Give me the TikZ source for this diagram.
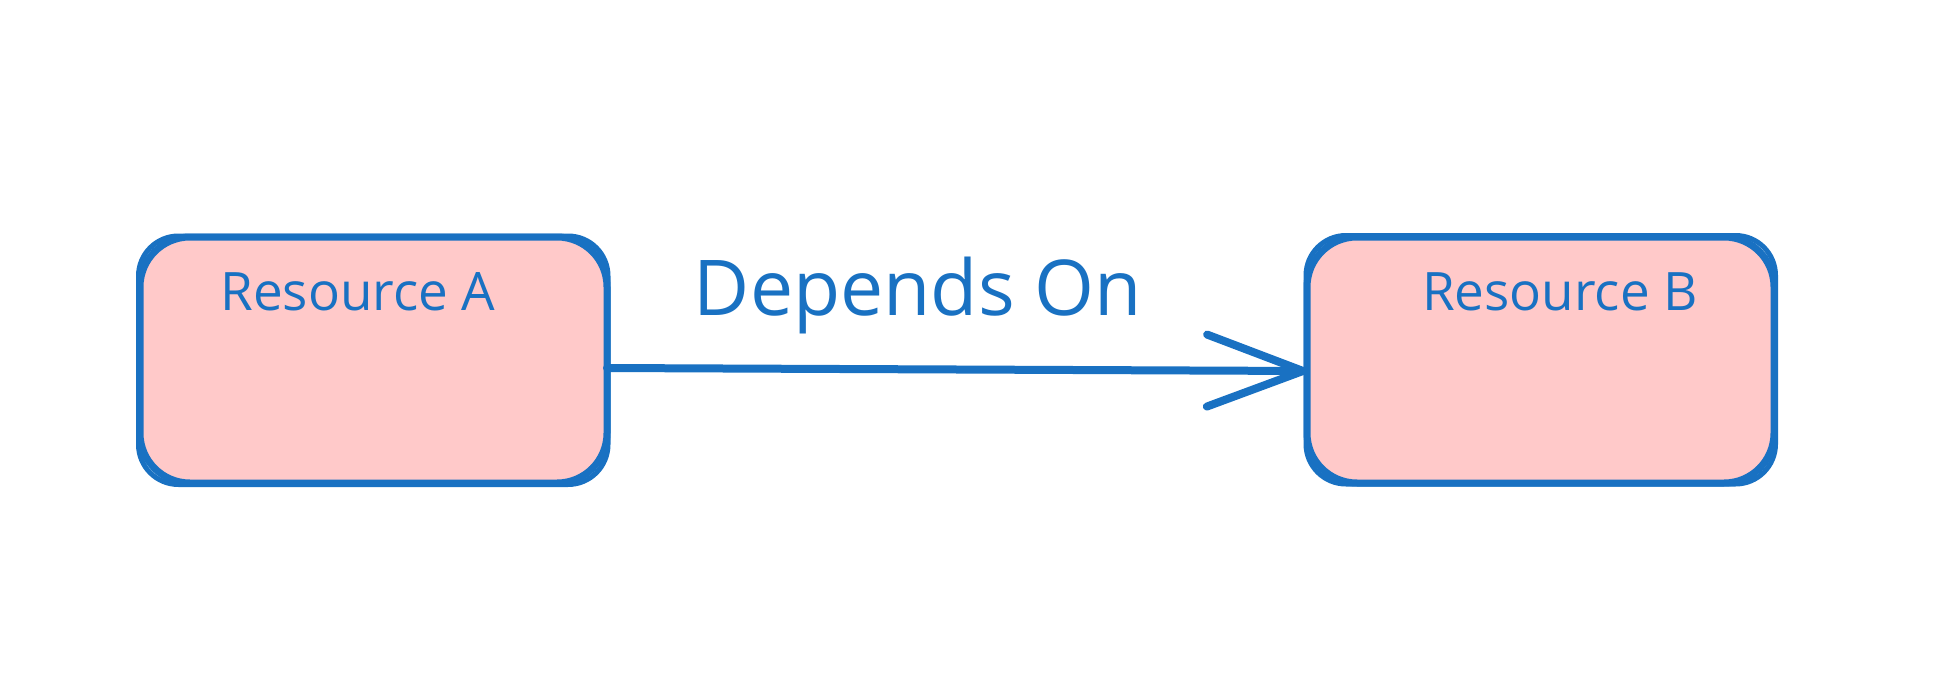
\documentclass[tikz,border=0pt]{standalone}
\usepackage{fontspec}
\setmainfont{Open Sans}
\usetikzlibrary{arrows.meta}
\definecolor{skblue}{HTML}{1971C2}
\definecolor{skpink}{HTML}{FFC9C9}
\begin{document}
\begin{tikzpicture}[x=1pt,y=-1pt,
 resbox/.style={draw=skblue, fill=skpink, line width=7pt, rounded corners=50pt, minimum width=467pt, minimum height=246pt, inner sep=0pt, outer sep=0pt},
 sketch/.style={draw=skblue, line width=5pt, rounded corners=40pt},
 boxlabel/.style={text=skblue, font=\fontsize{53}{60}\selectfont, anchor=base, inner sep=0pt},
 edgelabel/.style={text=skblue, font=\fontsize{77}{86}\selectfont, anchor=base, inner sep=0pt},
 link/.style={draw=skblue, line width=8pt, line cap=round, -{Straight Barb[length=96pt,width=72pt,round]}}]
\useasboundingbox (0,0) rectangle (1940,674);
\fill[white] (0,0) rectangle (1940,674);
\node[resbox] (boxA) at (373.5,360) {};
\node[resbox] (boxB) at (1540.5,360) {};
\draw[sketch] ([shift={(-1.5pt,1pt)}]boxA.north west) rectangle ([shift={(1pt,-1.5pt)}]boxA.south east);
\draw[sketch] ([shift={(-1pt,1.5pt)}]boxB.north west) rectangle ([shift={(1.5pt,-1pt)}]boxB.south east);
\node[boxlabel] (labA) at (358,310) {Resource A};
\node[boxlabel] (labB) at (1560,310) {Resource B};
\node[edgelabel] (labDep) at (918,315) {Depends On};
\draw[link] ([yshift=-8pt]boxA.east) -- ([yshift=-11pt]boxB.west);
\end{tikzpicture}
\end{document}
